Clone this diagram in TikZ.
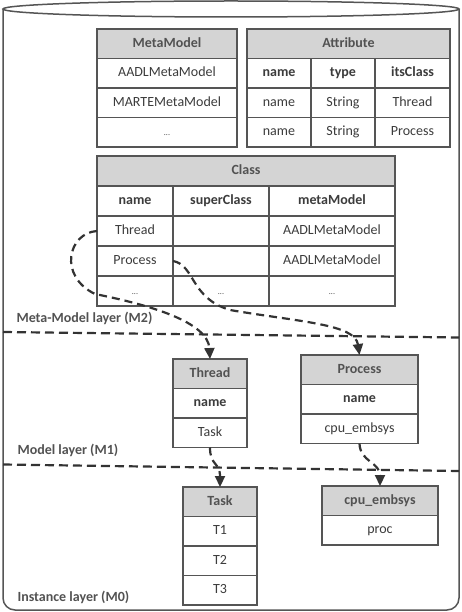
\documentclass[tikz,border=0pt]{standalone}
\usepackage{fontspec}
\setmainfont{Carlito}
\usepackage{tikz}
\usetikzlibrary{arrows.meta, positioning}

\definecolor{headgray}{HTML}{D4D4D4}
\definecolor{linegray}{HTML}{555555}
\definecolor{txtgray}{HTML}{3C3C3C}
\definecolor{linkgray}{HTML}{333333}
\newcommand{\cellfont}{\fontsize{14}{16}\selectfont}
\newcommand{\rowdots}{{\fontsize{8}{8}\selectfont ...}}

\begin{document}
\begin{tikzpicture}[
    x=1pt, y=-1pt,
    cell/.style={
        draw=linegray, fill=white, line width=1.4pt,
        rectangle, inner sep=0pt, outer sep=0pt,
        minimum height=29.5pt, text height=9.5pt, text depth=2.5pt,
        text=txtgray, font=\cellfont
    },
    head/.style={cell, fill=headgray, font=\cellfont\bfseries, text=black!68},
    colhead/.style={cell, font=\cellfont\bfseries},
    cyl/.style={draw=linegray, line width=1.5pt},
    layerline/.style={dash pattern=on 9pt off 5pt, line width=2.2pt, draw=linkgray},
    layer/.style={anchor=west, font=\cellfont\bfseries, text=black!68},
    link/.style={-{Triangle[length=11pt, width=10pt]}, dash pattern=on 8pt off 5pt,
        line width=2.2pt, draw=linkgray},
]
\useasboundingbox (0,0) rectangle (462,612);

% Repository cylinder
\draw[cyl, rounded corners=12pt] (3,9) -- (3,610) -- (459,610) -- (459,9);
\draw[cyl, fill=white] (231,9) ellipse [x radius=228pt, y radius=8pt];

% Meta-model layer: MetaModel table
\node[head, minimum width=140pt, anchor=north west] (mmHead) at (97,29) {MetaModel};
\node[cell, minimum width=140pt, below=0pt of mmHead] (mmAadl) {AADLMetaModel};
\node[cell, minimum width=140pt, below=0pt of mmAadl] (mmMarte) {MARTEMetaModel};
\node[cell, minimum width=140pt, below=0pt of mmMarte] (mmDots) {\rowdots};

% Attribute table
\node[head, minimum width=203pt, anchor=north west] (atHead) at (247,29) {Attribute};
\node[colhead, minimum width=64pt, anchor=north west] (atName) at (atHead.south west) {name};
\node[colhead, minimum width=64pt, right=0pt of atName] (atType) {type};
\node[colhead, minimum width=75pt, right=0pt of atType] (atClass) {itsClass};
\node[cell, minimum width=64pt, below=0pt of atName] (atName1) {name};
\node[cell, minimum width=64pt, below=0pt of atType] (atType1) {String};
\node[cell, minimum width=75pt, below=0pt of atClass] (atClass1) {Thread};
\node[cell, minimum width=64pt, below=0pt of atName1] (atName2) {name};
\node[cell, minimum width=64pt, below=0pt of atType1] (atType2) {String};
\node[cell, minimum width=75pt, below=0pt of atClass1] (atClass2) {Process};

% Class table
\node[head, minimum width=298pt, minimum height=30pt, anchor=north west] (clHead) at (97,156) {Class};
\node[colhead, minimum width=76pt, minimum height=30pt, anchor=north west] (clName) at (clHead.south west) {name};
\node[colhead, minimum width=96pt, minimum height=30pt, right=0pt of clName] (clSuper) {superClass};
\node[colhead, minimum width=126pt, minimum height=30pt, right=0pt of clSuper] (clMeta) {metaModel};
\node[cell, minimum width=76pt, minimum height=30pt, below=0pt of clName] (clThread) {Thread};
\node[cell, minimum width=96pt, minimum height=30pt, below=0pt of clSuper] (clThreadSup) {};
\node[cell, minimum width=126pt, minimum height=30pt, below=0pt of clMeta] (clThreadMeta) {AADLMetaModel};
\node[cell, minimum width=76pt, minimum height=30pt, below=0pt of clThread] (clProcess) {Process};
\node[cell, minimum width=96pt, minimum height=30pt, below=0pt of clThreadSup] (clProcessSup) {};
\node[cell, minimum width=126pt, minimum height=30pt, below=0pt of clThreadMeta] (clProcessMeta) {AADLMetaModel};
\node[cell, minimum width=76pt, minimum height=30pt, below=0pt of clProcess] (clDots) {\rowdots};
\node[cell, minimum width=96pt, minimum height=30pt, below=0pt of clProcessSup] (clDotsSup) {\rowdots};
\node[cell, minimum width=126pt, minimum height=30pt, below=0pt of clProcessMeta] (clDotsMeta) {\rowdots};

% Layer separators and labels
\node[layer] (lblM2) at (13,318) {Meta-Model layer (M2)};
\draw[layerline] (3,332) -- (459,337.5);
\node[layer] (lblM1) at (14,450) {Model layer (M1)};
\draw[layerline] (3,464.5) -- (459,471);
\node[layer] (lblM0) at (14,597) {Instance layer (M0)};

% Model layer
\node[head, minimum width=74pt, anchor=north west] (thHead) at (173,359) {Thread};
\node[colhead, minimum width=74pt, below=0pt of thHead] (thName) {name};
\node[cell, minimum width=74pt, below=0pt of thName] (thTask) {Task};

\node[head, minimum width=117pt, anchor=north west] (prHead) at (301,355) {Process};
\node[colhead, minimum width=117pt, below=0pt of prHead] (prName) {name};
\node[cell, minimum width=117pt, below=0pt of prName] (prCpu) {cpu\_embsys};

% Instance layer
\node[head, minimum width=74pt, anchor=north west] (taskHead) at (183,487) {Task};
\node[cell, minimum width=74pt, below=0pt of taskHead] (taskT1) {T1};
\node[cell, minimum width=74pt, below=0pt of taskT1] (taskT2) {T2};
\node[cell, minimum width=74pt, below=0pt of taskT2] (taskT3) {T3};

\node[head, minimum width=116pt, anchor=north west] (cpuHead) at (322,486) {cpu\_embsys};
\node[cell, minimum width=116pt, below=0pt of cpuHead] (cpuProc) {proc};

% Instantiation links
\draw[link] (clThread.west) .. controls (68,233) and (58,276) .. (95,294)
    .. controls (150,305) and (208,322) .. (thHead.north);
\draw[link] (clProcess.east) .. controls (195,265) and (190,298) .. (230,310)
    .. controls (300,322) and (355,324) .. (prHead.north);
\draw[link] (thTask.south) .. controls (210,466) and (220,462) .. (taskHead.north);
\draw[link] (prCpu.south) .. controls (360,462) and (380,462) .. (cpuHead.north);

\end{tikzpicture}
\end{document}
